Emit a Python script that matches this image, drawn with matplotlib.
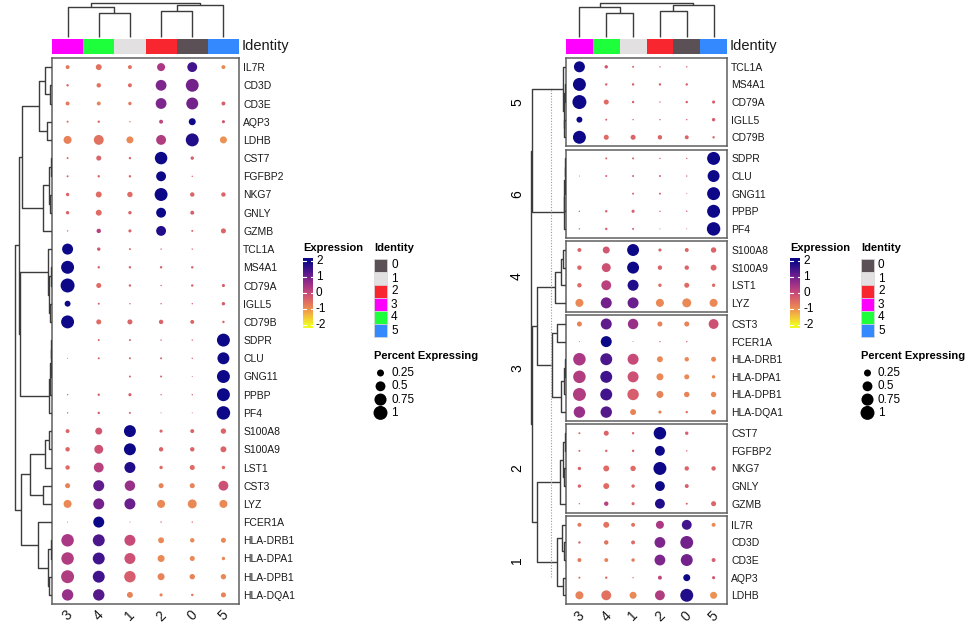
import numpy as np
import matplotlib

matplotlib.use("Agg")
import matplotlib.pyplot as plt
from matplotlib.colors import LinearSegmentedColormap

plt.rcParams["font.family"] = ["Liberation Sans", "DejaVu Sans"]

W, H = 977, 623

# column order (after clustering) and identity palette
clusters = ["3", "4", "1", "2", "0", "5"]
identity_levels = ["0", "1", "2", "3", "4", "5"]
identity_colors = ["#5A5056", "#E2E0E1", "#F8262E", "#FF00FF", "#1DFF3B", "#3489FF"]

genes_left = [
    "IL7R", "CD3D", "CD3E", "AQP3", "LDHB",
    "CST7", "FGFBP2", "NKG7", "GNLY", "GZMB",
    "TCL1A", "MS4A1", "CD79A", "IGLL5", "CD79B",
    "SDPR", "CLU", "GNG11", "PPBP", "PF4",
    "S100A8", "S100A9", "LST1", "CST3", "LYZ",
    "FCER1A", "HLA-DRB1", "HLA-DPA1", "HLA-DPB1", "HLA-DQA1",
]

slice_labels = ["5", "6", "4", "3", "2", "1"]
slice_genes = [
    ["TCL1A", "MS4A1", "CD79A", "IGLL5", "CD79B"],
    ["SDPR", "CLU", "GNG11", "PPBP", "PF4"],
    ["S100A8", "S100A9", "LST1", "LYZ"],
    ["CST3", "FCER1A", "HLA-DRB1", "HLA-DPA1", "HLA-DPB1", "HLA-DQA1"],
    ["CST7", "FGFBP2", "NKG7", "GNLY", "GZMB"],
    ["IL7R", "CD3D", "CD3E", "AQP3", "LDHB"],
]

# fraction of cells expressing, columns in `clusters` order
pct_expr = {
    "IL7R": [0.08, 0.18, 0.08, 0.33, 0.50, 0.08],
    "CD3D": [0.03, 0.10, 0.08, 0.60, 0.85, 0.0],
    "CD3E": [0.08, 0.08, 0.06, 0.60, 0.73, 0.08],
    "AQP3": [0.02, 0.03, 0.01, 0.08, 0.25, 0.05],
    "LDHB": [0.33, 0.50, 0.25, 0.50, 0.86, 0.25],
    "CST7": [0.02, 0.13, 0.03, 0.80, 0.06, 0.0],
    "FGFBP2": [0.02, 0.03, 0.03, 0.50, 0.01, 0.0],
    "NKG7": [0.06, 0.18, 0.15, 0.86, 0.10, 0.10],
    "GNLY": [0.06, 0.18, 0.06, 0.50, 0.08, 0.0],
    "GZMB": [0.01, 0.10, 0.05, 0.50, 0.02, 0.13],
    "TCL1A": [0.62, 0.06, 0.02, 0.01, 0.01, 0.0],
    "MS4A1": [0.86, 0.03, 0.03, 0.03, 0.03, 0.0],
    "CD79A": [1.00, 0.13, 0.03, 0.01, 0.03, 0.05],
    "IGLL5": [0.18, 0.02, 0.01, 0.01, 0.01, 0.06],
    "CD79B": [0.86, 0.13, 0.13, 0.10, 0.08, 0.03],
    "SDPR": [0.0, 0.02, 0.02, 0.01, 0.01, 0.86],
    "CLU": [0.005, 0.02, 0.02, 0.02, 0.01, 0.73],
    "GNG11": [0.0, 0.0, 0.02, 0.02, 0.005, 0.86],
    "PPBP": [0.01, 0.03, 0.05, 0.01, 0.01, 0.86],
    "PF4": [0.01, 0.03, 0.02, 0.005, 0.005, 0.93],
    "S100A8": [0.08, 0.25, 0.73, 0.05, 0.08, 0.15],
    "S100A9": [0.10, 0.41, 0.73, 0.10, 0.10, 0.18],
    "LST1": [0.10, 0.50, 0.62, 0.06, 0.13, 0.06],
    "CST3": [0.13, 0.62, 0.56, 0.13, 0.13, 0.50],
    "LYZ": [0.33, 0.62, 0.62, 0.33, 0.41, 0.33],
    "FCER1A": [0.005, 0.62, 0.005, 0.01, 0.01, 0.0],
    "HLA-DRB1": [0.80, 0.73, 0.62, 0.18, 0.10, 0.13],
    "HLA-DPA1": [0.80, 0.73, 0.62, 0.25, 0.13, 0.06],
    "HLA-DPB1": [0.86, 0.73, 0.67, 0.25, 0.15, 0.15],
    "HLA-DQA1": [0.67, 0.67, 0.18, 0.05, 0.03, 0.13],
}

# scaled average expression, same layout
avg_expr = {
    "IL7R": [-0.7, -0.6, -0.6, 0.4, 1.5, -0.9],
    "CD3D": [-0.4, -0.6, -0.5, 0.9, 1.0, 0.0],
    "CD3E": [-0.7, -0.8, -0.7, 0.9, 1.0, -0.3],
    "AQP3": [-0.4, -0.5, -0.6, 0.1, 2.0, -0.2],
    "LDHB": [-0.8, -0.6, -0.9, 0.3, 1.8, -1.0],
    "CST7": [-0.4, -0.4, -0.4, 2.0, -0.3, 0.0],
    "FGFBP2": [-0.4, -0.4, -0.4, 2.0, -0.4, 0.0],
    "NKG7": [-0.4, -0.5, -0.5, 2.0, -0.4, -0.4],
    "GNLY": [-0.4, -0.5, -0.4, 2.0, -0.3, 0.0],
    "GZMB": [-0.5, 0.2, -0.4, 1.8, -0.4, -0.4],
    "TCL1A": [2.0, -0.2, -0.4, -0.3, -0.3, 0.0],
    "MS4A1": [2.0, -0.3, -0.3, -0.3, -0.3, 0.0],
    "CD79A": [2.0, -0.5, -0.3, -0.3, -0.3, -0.3],
    "IGLL5": [2.0, -0.3, -0.3, -0.3, -0.3, -0.3],
    "CD79B": [2.0, -0.5, -0.4, -0.4, -0.4, -0.4],
    "SDPR": [0.0, -0.3, -0.3, -0.3, -0.3, 2.0],
    "CLU": [-0.3, -0.3, -0.3, -0.3, -0.3, 2.0],
    "GNG11": [0.0, 0.0, -0.3, -0.3, -0.3, 2.0],
    "PPBP": [-0.3, -0.3, -0.3, -0.3, -0.3, 2.0],
    "PF4": [-0.3, -0.3, -0.3, -0.3, -0.3, 2.0],
    "S100A8": [-0.4, -0.2, 2.0, -0.4, -0.4, -0.4],
    "S100A9": [-0.4, -0.1, 2.0, -0.4, -0.4, -0.4],
    "LST1": [-0.5, 0.2, 1.8, -0.5, -0.5, -0.5],
    "CST3": [-0.8, 1.2, 0.6, -0.8, -0.8, -0.1],
    "LYZ": [-0.9, 1.0, 1.1, -0.9, -0.9, -0.9],
    "FCER1A": [-0.4, 2.0, -0.4, -0.4, -0.4, 0.0],
    "HLA-DRB1": [0.4, 1.4, 0.0, -0.9, -0.9, -0.9],
    "HLA-DPA1": [0.3, 1.5, -0.1, -0.9, -0.9, -0.9],
    "HLA-DPB1": [0.3, 1.5, -0.3, -0.8, -0.8, -0.9],
    "HLA-DQA1": [0.6, 1.3, -0.8, -0.8, -0.6, -0.8],
}

# dendrograms: (left, right, height); heights in pixel-ish distance units
col_tree = (("3", ("4", "1", 24.7), 30.7), (("2", "0", 26.3), "5", 33.3), 34.7)

t_grp = (("IL7R", ("CD3D", "CD3E", 2.5), 7), ("AQP3", "LDHB", 5.5), 12.7)
nk_grp = ((("CST7", "FGFBP2", 1.5), ("NKG7", "GNLY", 2), 3), "GZMB", 8.7)
b_grp = ("TCL1A", (("MS4A1", "CD79A", 1.5), ("IGLL5", "CD79B", 2.5), 3), 4)
plt_grp = (((("SDPR", "CLU", 1), "GNG11", 1.5), "PPBP", 2), "PF4", 3)
mono_grp = ((("S100A8", "S100A9", 2.7), "LST1", 7), ("CST3", "LYZ", 9.3), 22)
dc_grp = ("FCER1A", (("HLA-DRB1", "HLA-DPA1", 1.5), ("HLA-DPB1", "HLA-DQA1", 3), 4.5), 13.7)
row_tree_left = (((t_grp, nk_grp, 30.3), (b_grp, plt_grp, 32), 33), (mono_grp, dc_grp, 31.3), 37)

s5 = ("TCL1A", (("MS4A1", "CD79A", 1), ("IGLL5", "CD79B", 2), 2.5), 3)
s6 = (((("SDPR", "CLU", 0.8), "GNG11", 1.2), "PPBP", 1.6), "PF4", 2.2)
s4 = ((("S100A8", "S100A9", 3), "LST1", 5), "LYZ", 11)
s3 = (("CST3", "FCER1A", 9), ((("HLA-DRB1", "HLA-DPA1", 1), "HLA-DPB1", 2), "HLA-DQA1", 5), 14)
s2 = ((("CST7", "FGFBP2", 1.5), ("NKG7", "GNLY", 2), 3), "GZMB", 6)
s1 = (("IL7R", ("CD3D", "CD3E", 2), 4), ("AQP3", "LDHB", 3), 9)
row_tree_right = ((s5, s6, 34), ((s4, s3, 29), (s2, s1, 29), 34), 35.5)
cut_height = 15

expr_ticks = [2, 1, 0, -1, -2]
pct_legend = [0.25, 0.5, 0.75, 1]

# muted plasma-like ramp (yellow -> orange -> pink -> purple -> navy)
cmap = LinearSegmentedColormap.from_list("expr", [
    (0.0, "#F0F921"), (0.125, "#F5C23C"), (0.25, "#EC9152"), (0.375, "#E06A64"),
    (0.5, "#C84A78"), (0.625, "#A23487"), (0.75, "#74228C"), (0.875, "#42138C"),
    (1.0, "#0D0887"),
])
SIZE = 101.0  # marker area (pt^2) for 100% expressing
LINE = "#3c3c3c"
BOX = "#5f5f5f"


def rect(x0, y0, x1, y1):
    return [x0 / W, 1 - y1 / H, (x1 - x0) / W, (y1 - y0) / H]


def draw_tree(ax, node, pos, orient):
    if isinstance(node, str):
        return pos[node], 0.0
    left, right, h = node
    pl, hl = draw_tree(ax, left, pos, orient)
    pr, hr = draw_tree(ax, right, pos, orient)
    if orient == "left":
        ax.plot([hl, h, h, hr], [pl, pl, pr, pr], color=LINE, lw=1.0, solid_capstyle="butt")
    else:
        ax.plot([pl, pl, pr, pr], [hl, h, h, hr], color=LINE, lw=1.0, solid_capstyle="butt")
    return (pl + pr) / 2, h


def draw_dots(ax, genes):
    xs, ys, ss, cs = [], [], [], []
    for r, g in enumerate(genes):
        for c in range(len(clusters)):
            p = pct_expr[g][c]
            if p <= 0:
                continue
            xs.append(c)
            ys.append(r)
            ss.append(p * SIZE)
            cs.append(avg_expr[g][c])
    ax.scatter(xs, ys, s=ss, c=cs, cmap=cmap, vmin=-2, vmax=2, edgecolors="none")
    ax.set_xlim(-0.5, len(clusters) - 0.5)
    ax.set_ylim(len(genes) - 0.5, -0.5)
    ax.yaxis.tick_right()
    ax.set_yticks(range(len(genes)))
    ax.set_yticklabels(genes, fontsize=7.5, color="#1a1a1a")
    ax.tick_params(axis="y", length=0, pad=3)
    ax.set_xticks([])
    for sp in ax.spines.values():
        sp.set_color(BOX)
        sp.set_linewidth(1.1)


def col_labels(ax):
    ax.set_xticks(range(len(clusters)))
    ax.set_xticklabels(clusters, rotation=45, ha="center", va="top", fontsize=10, color="#1a1a1a")
    ax.tick_params(axis="x", length=0, pad=3)


def top_parts(x0, x1, label_x):
    dax = fig.add_axes(rect(x0, 2, x1, 38))
    col_pos = {c: i for i, c in enumerate(clusters)}
    draw_tree(dax, col_tree, col_pos, "top")
    dax.set_xlim(-0.5, len(clusters) - 0.5)
    dax.set_ylim(-1, 36)
    dax.axis("off")

    bax = fig.add_axes(rect(x0, 38.5, x1, 54))
    bax.bar(range(len(clusters)), 1, width=1.0,
            color=[identity_colors[identity_levels.index(c)] for c in clusters])
    bax.set_xlim(-0.5, len(clusters) - 0.5)
    bax.set_ylim(0, 1)
    bax.axis("off")
    lax.text(label_x, 46, "Identity", fontsize=10.5, va="center", ha="left", color="#1a1a1a")


def legends(x0):
    lax.text(x0, 248, "Expression", fontsize=8, fontweight="bold", va="center", ha="left")
    cax = fig.add_axes(rect(x0, 258, x0 + 10, 328))
    grad = np.linspace(2.2, -2.2, 200)[:, None]
    cax.imshow(grad, aspect="auto", cmap=cmap, vmin=-2, vmax=2, extent=[0, 1, -2.2, 2.2])
    for v in expr_ticks:
        cax.plot([0, 0.25], [v, v], color="white", lw=0.8)
        cax.plot([0.75, 1], [v, v], color="white", lw=0.8)
        lax.text(x0 + 13, 258 + (2.2 - v) / 4.4 * 70, str(v), fontsize=8.5, va="center", ha="left")
    cax.set_xlim(0, 1)
    cax.set_ylim(-2.2, 2.2)
    cax.axis("off")

    ix = x0 + 71
    lax.text(ix, 248, "Identity", fontsize=8, fontweight="bold", va="center", ha="left")
    for i, (lev, col) in enumerate(zip(identity_levels, identity_colors)):
        y = 259 + 13 * i
        lax.add_patch(plt.Rectangle((ix, y), 12.5, 12.5, facecolor=col, edgecolor="#d8d8d8", lw=0.5))
        lax.text(ix + 17, y + 6.5, lev, fontsize=8.5, va="center", ha="left")

    lax.text(ix, 356, "Percent Expressing", fontsize=8, fontweight="bold", va="center", ha="left")
    for i, p in enumerate(pct_legend):
        y = 373 + 13.3 * i
        lax.scatter([ix + 6.5], [y], s=p * SIZE, color="black", edgecolors="none")
        lax.text(ix + 17, y, f"{p:g}", fontsize=8.5, va="center", ha="left")


fig = plt.figure(figsize=(W / 100, H / 100), dpi=100)
lax = fig.add_axes([0, 0, 1, 1], zorder=5)
lax.set_xlim(0, W)
lax.set_ylim(H, 0)
lax.axis("off")

# ---- left panel
ax_l = fig.add_axes(rect(52, 58, 239, 604))
draw_dots(ax_l, genes_left)
col_labels(ax_l)

rd_l = fig.add_axes(rect(10, 58, 52, 604))
draw_tree(rd_l, row_tree_left, {g: i for i, g in enumerate(genes_left)}, "left")
rd_l.set_ylim(len(genes_left) - 0.5, -0.5)
rd_l.set_xlim(42, 0)
rd_l.axis("off")

top_parts(52, 239, 242)
legends(303)

# ---- right panel (split into slices)
row_h, gap = 17.62, 3.5
y = 58.0
leaf_pos = {}
slice_axes = []
for lab, genes in zip(slice_labels, slice_genes):
    top, bot = y, y + row_h * len(genes)
    ax = fig.add_axes(rect(566, top, 727, bot))
    draw_dots(ax, genes)
    slice_axes.append(ax)
    for i, g in enumerate(genes):
        leaf_pos[g] = top + (i + 0.5) * row_h
    lax.text(517, (top + bot) / 2, lab, fontsize=10, rotation=90, va="center", ha="center")
    y = bot + gap
col_labels(slice_axes[-1])

rd_r = fig.add_axes(rect(526, 58, 566, 604))
draw_tree(rd_r, row_tree_right, leaf_pos, "left")
rd_r.axvline(cut_height, ymin=0.05, ymax=0.945, color="#9a9a9a", lw=0.8, ls=(0, (1, 1.5)))
rd_r.set_ylim(604, 58)
rd_r.set_xlim(40, 0)
rd_r.axis("off")

top_parts(566, 727, 730)
legends(790)

fig.savefig("out.png", dpi=100, facecolor="white")
